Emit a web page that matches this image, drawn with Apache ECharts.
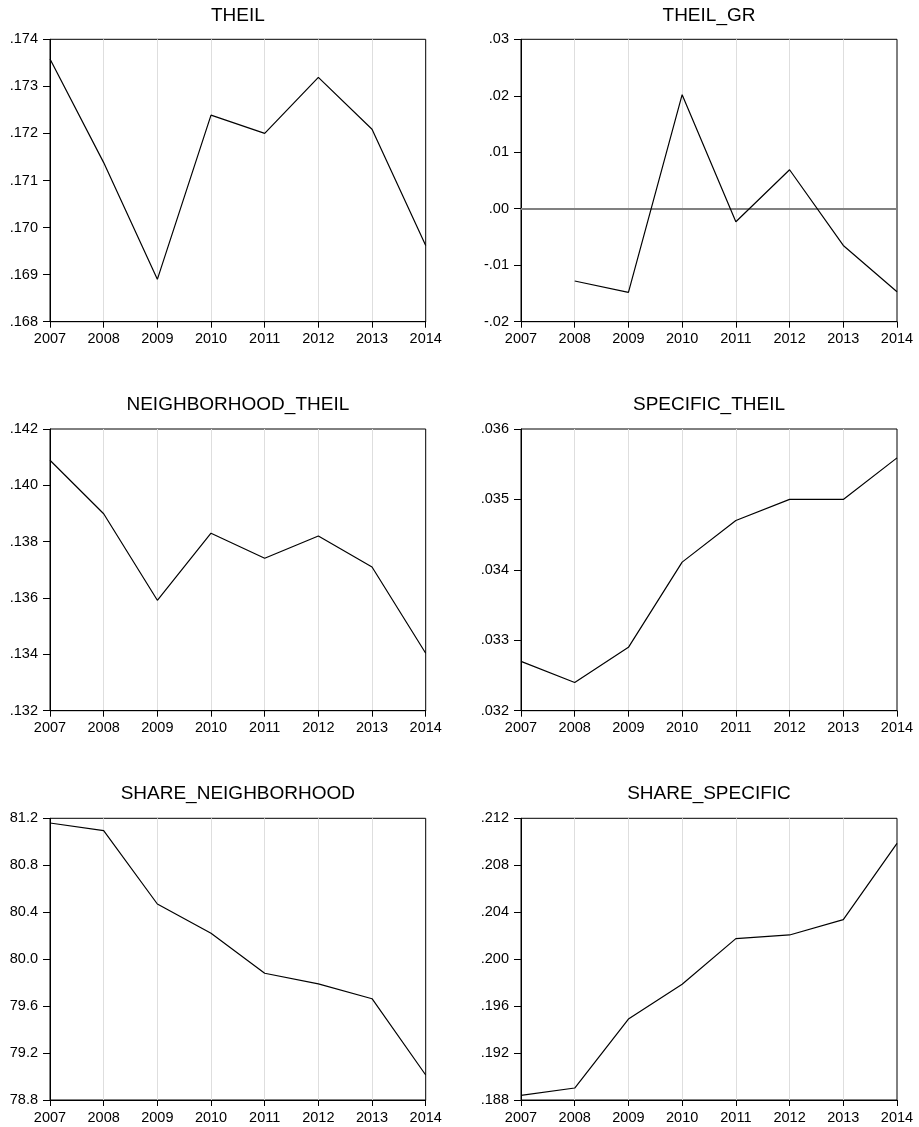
<!DOCTYPE html>
<html>
<head>
<meta charset="utf-8">
<script src="https://cdn.jsdelivr.net/npm/echarts@6/dist/echarts.min.js"></script>
<style>
html,body{margin:0;padding:0;background:#fff;}
#chart{width:919px;height:1127px;}
</style>
</head>
<body>
<div id="chart"></div>
<script>
const years = ['2007','2008','2009','2010','2011','2012','2013','2014'];
const theil = [0.17358, 0.17138, 0.16890, 0.17239, 0.17200, 0.17319, 0.17209, 0.16962];
const theilGr = [null, -0.0128, -0.0148, 0.0202, -0.0023, 0.0069, -0.0065, -0.0147];
const neighborhoodTheil = [0.14089, 0.13899, 0.13592, 0.13830, 0.13741, 0.13820, 0.13710, 0.13404];
const specificTheil = [0.03270, 0.03240, 0.03290, 0.03411, 0.03470, 0.03500, 0.03500, 0.03559];
const shareNeighborhood = [81.16, 81.095, 80.47, 80.22, 79.88, 79.79, 79.663, 79.013];
const shareSpecific = [0.18840, 0.18902, 0.19490, 0.19786, 0.20175, 0.20206, 0.20337, 0.20987];

const titles = ['THEIL','THEIL_GR','NEIGHBORHOOD_THEIL','SPECIFIC_THEIL','SHARE_NEIGHBORHOOD','SHARE_SPECIFIC'];
const seriesData = [theil, theilGr, neighborhoodTheil, specificTheil, shareNeighborhood, shareSpecific];
const yMin = [0.168, -0.02, 0.132, 0.032, 78.8, 0.188];
const yMax = [0.174, 0.03, 0.142, 0.036, 81.2, 0.212];
const yStep = [0.001, 0.01, 0.002, 0.001, 0.4, 0.004];
const yDecimals = [3, 2, 3, 3, 1, 3];

const FONT = 'Arial, "Liberation Sans", sans-serif';
const colLeft = [50, 521];
const colWidth = [375.7, 376];
const rowTop = [39.3, 429, 818.3];
const rowHeight = [282.4, 281.7, 281.7];
const titleTop = [6, 395, 784.5];

function fmt(v, d) {
  let s = Number(v).toFixed(d);
  if (s === '-' + (0).toFixed(d)) s = (0).toFixed(d);
  return s.replace(/^(-?)0\./, '$1.');
}

const grid = [], xAxis = [], yAxis = [], series = [], title = [];
for (let i = 0; i < 6; i++) {
  const r = Math.floor(i / 2), c = i % 2;
  grid.push({
    left: colLeft[c], top: rowTop[r], width: colWidth[c], height: rowHeight[r],
    show: true, borderColor: '#000', borderWidth: 1, backgroundColor: 'transparent',
    containLabel: false
  });
  title.push({
    text: titles[i],
    left: colLeft[c] + colWidth[c] / 2,
    top: titleTop[r],
    textAlign: 'center',
    padding: 0,
    textStyle: { fontFamily: FONT, fontSize: 19, fontWeight: 'normal', color: '#000' }
  });
  xAxis.push({
    type: 'category', gridIndex: i, data: years, boundaryGap: false,
    axisLine: { show: true, onZero: false, lineStyle: { color: '#000', width: 1 } },
    axisTick: { show: true, length: 6, interval: 0, lineStyle: { color: '#000' } },
    axisLabel: { interval: 0, margin: 10, fontFamily: FONT, fontSize: 14.5, color: '#000' },
    splitLine: { show: true, interval: (idx) => idx > 0 && idx < years.length - 1,
      lineStyle: { color: '#dedede', width: 1 } }
  });
  const d = yDecimals[i];
  yAxis.push({
    type: 'value', gridIndex: i, min: yMin[i], max: yMax[i], interval: yStep[i],
    axisLine: { show: true, onZero: false, lineStyle: { color: '#000', width: 1 } },
    axisTick: { show: true, length: 7, lineStyle: { color: '#000' } },
    axisLabel: { margin: 12, fontFamily: FONT, fontSize: 14.5, color: '#000',
      formatter: (v) => fmt(v, d) },
    splitLine: { show: false }
  });
  const s = {
    type: 'line', xAxisIndex: i, yAxisIndex: i, data: seriesData[i],
    showSymbol: false, symbol: 'none', connectNulls: false,
    lineStyle: { color: '#000', width: 1.2 }, z: 5
  };
  if (i === 1) {
    s.markLine = {
      silent: true, symbol: ['none', 'none'], label: { show: false },
      lineStyle: { color: '#808080', width: 2, type: 'solid' },
      data: [{ yAxis: 0 }], z: 3
    };
  }
  series.push(s);
}

const chart = echarts.init(document.getElementById('chart'), null, { renderer: 'canvas' });
chart.setOption({
  animation: false,
  backgroundColor: '#fff',
  title, grid, xAxis, yAxis, series
});
</script>
</body>
</html>
